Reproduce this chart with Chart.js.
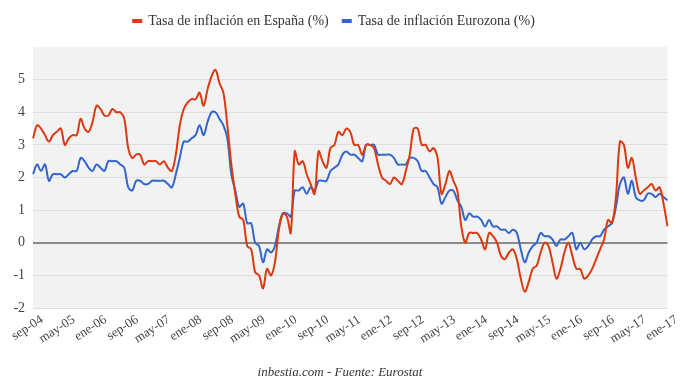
<!DOCTYPE html>
<html><head><meta charset="utf-8">
<script src="https://cdn.jsdelivr.net/npm/chart.js@4/dist/chart.umd.min.js"></script>
<style>html,body{margin:0;padding:0;background:#fff}</style>
</head><body>
<canvas id="c" width="680" height="384"></canvas>
<script>
// Tick labels shown every 8 months (as in the reference)
const tickLabels = ['sep-04','may-05','ene-06','sep-06','may-07','ene-08','sep-08','may-09','ene-10','sep-10','may-11','ene-12','sep-12','may-13','ene-14','sep-14','may-15','ene-16','sep-16','may-17','ene-17'];
const monthNames = ['ene','feb','mar','abr','may','jun','jul','ago','sep','oct','nov','dic'];

// Tasa de inflación en España (%) — monthly, sep-04 onwards
const spain = [
  3.2, 3.6, 3.5, 3.3,
  3.1, 3.3, 3.4, 3.5, 3.0, 3.2, 3.3, 3.3, 3.8, 3.5, 3.4, 3.7,
  4.2, 4.1, 3.9, 3.9, 4.1, 4.0, 4.0, 3.8, 2.9, 2.6, 2.7, 2.7,
  2.4, 2.5, 2.5, 2.5, 2.4, 2.5, 2.3, 2.2, 2.7, 3.6, 4.1, 4.3,
  4.4, 4.4, 4.6, 4.2, 4.7, 5.1, 5.3, 4.9, 4.6, 3.6, 2.4, 1.5,
  0.8, 0.7, -0.1, -0.2, -0.9, -1.0, -1.4, -0.8, -1.0, -0.6, 0.4, 0.9,
  0.8, 0.3, 2.8, 2.4, 2.5, 2.1, 1.8, 1.5, 2.8, 2.5, 2.3, 2.9,
  3.0, 3.4, 3.3, 3.5, 3.4, 3.0, 3.0, 2.7, 3.0, 3.0, 2.9, 2.4,
  2.0, 1.9, 1.8, 2.0, 1.9, 1.8, 2.2, 2.7, 3.5, 3.5, 3.0, 3.0,
  2.8, 2.9, 2.6, 1.5, 1.8, 2.2, 1.9, 1.6, 0.5, 0.0, 0.3, 0.3,
  0.3, 0.1, -0.2, 0.3, 0.2, 0.0, -0.4, -0.5, -0.3, -0.2, -0.5, -1.1,
  -1.5, -1.2, -0.8, -0.7, -0.3, 0.0, -0.1, -0.6, -1.1, -0.8, -0.3, 0.0,
  -0.4, -0.8, -0.8, -1.1, -1.0, -0.8, -0.5, -0.2, 0.1, 0.7, 0.6, 1.4,
  3.1, 3.0, 2.3, 2.6, 2.0, 1.5, 1.6, 1.7, 1.8, 1.6, 1.7, 1.2,
  0.5
];

// Tasa de inflación Eurozona (%)
const euro = [
  2.1, 2.4, 2.2, 2.4,
  1.9, 2.1, 2.1, 2.1, 2.0, 2.1, 2.2, 2.2, 2.6, 2.5, 2.3, 2.2,
  2.4, 2.3, 2.2, 2.5, 2.5, 2.5, 2.4, 2.3, 1.7, 1.6, 1.9, 1.9,
  1.8, 1.8, 1.9, 1.9, 1.9, 1.9, 1.8, 1.7, 2.1, 2.6, 3.1, 3.1,
  3.2, 3.3, 3.6, 3.3, 3.7, 4.0, 4.0, 3.8, 3.6, 3.2, 2.1, 1.6,
  1.1, 1.2, 0.6, 0.6, 0.0, -0.1, -0.6, -0.2, -0.3, -0.1, 0.5, 0.9,
  0.9, 0.8, 1.6, 1.6, 1.7, 1.5, 1.7, 1.6, 1.9, 1.9, 1.9, 2.2,
  2.3, 2.4, 2.7, 2.8, 2.7, 2.7, 2.6, 2.5, 3.0, 3.0, 3.0, 2.7,
  2.7, 2.7, 2.7, 2.6, 2.4, 2.4, 2.4, 2.6, 2.6, 2.5, 2.2, 2.2,
  2.0, 1.8, 1.7, 1.2, 1.4, 1.6, 1.6, 1.3, 1.1, 0.7, 0.9, 0.8,
  0.8, 0.7, 0.5, 0.7, 0.5, 0.5, 0.4, 0.4, 0.3, 0.4, 0.3, -0.2,
  -0.6, -0.3, -0.1, 0.0, 0.3, 0.2, 0.2, 0.1, -0.1, 0.1, 0.1, 0.2,
  0.3, -0.2, 0.0, -0.2, -0.1, 0.1, 0.2, 0.2, 0.4, 0.5, 0.6, 1.1,
  1.8, 2.0, 1.5, 1.9, 1.4, 1.3, 1.3, 1.5, 1.5, 1.4, 1.5, 1.4,
  1.3
];

// Category labels: one per month starting sep-2004
const categories = spain.map((_, i) => {
  const mi = (8 + i) % 12;
  const yr = 4 + Math.floor((8 + i) / 12);
  return monthNames[mi] + '-' + String(yr).padStart(2, '0');
});

const SERIF = 'Liberation Serif';

const bgPlugin = {
  id: 'bg',
  beforeDraw(chart) {
    const {ctx, chartArea: {left, top, width, height}} = chart;
    ctx.save();
    ctx.fillStyle = '#f2f2f2';
    ctx.fillRect(left, top, width, height);
    ctx.restore();
  }
};
const footerPlugin = {
  id: 'footer',
  afterDraw(chart) {
    const ctx = chart.ctx;
    ctx.save();
    ctx.font = 'italic 13px "' + SERIF + '"';
    ctx.fillStyle = '#333';
    ctx.textAlign = 'center';
    ctx.textBaseline = 'middle';
    ctx.fillText('inbestia.com - Fuente: Eurostat', 340, 373);
    ctx.restore();
  }
};
const legendHeight = {
  id: 'legendHeight',
  beforeInit(chart) {
    const fit = chart.legend.fit;
    chart.legend.fit = function () { fit.bind(chart.legend)(); this.height = 47; };
  }
};

new Chart(document.getElementById('c'), {
  type: 'line',
  data: {
    labels: categories,
    datasets: [
      {label: 'Tasa de inflación en España (%)', data: spain, borderColor: '#dc3912', backgroundColor: '#dc3912', borderWidth: 2, pointRadius: 0, tension: 0.35, fill: false},
      {label: 'Tasa de inflación Eurozona (%)', data: euro, borderColor: '#3366cc', backgroundColor: '#3366cc', borderWidth: 2, pointRadius: 0, tension: 0.35, fill: false}
    ]
  },
  options: {
    responsive: false,
    animation: false,
    devicePixelRatio: 1,
    layout: {padding: {left: 0, right: 12, top: 0, bottom: 0}},
    plugins: {
      legend: {
        position: 'top',
        labels: {font: {family: SERIF, size: 14}, color: '#333', boxWidth: 8, boxHeight: 2, padding: 14}
      },
      tooltip: {enabled: false}
    },
    scales: {
      x: {
        offset: false,
        grid: {display: false, drawTicks: false},
        border: {display: false},
        ticks: {
          autoSkip: false, minRotation: 33, maxRotation: 33, padding: 4, labelOffset: 9,
          font: {family: SERIF, size: 13}, color: '#444',
          callback: (v, i) => (i % 8 === 0 ? tickLabels[i / 8] : '')
        },
        afterFit(s) { s.height = 76; }
      },
      y: {
        min: -2, max: 6,
        border: {display: false},
        grid: {
          drawTicks: false,
          color: c => c.tick.value === 0 ? '#8a8a8a' : (c.tick.value === 6 ? 'rgba(0,0,0,0)' : '#dedede'),
          lineWidth: c => c.tick.value === 0 ? 2 : 1
        },
        ticks: {stepSize: 1, padding: 8, font: {family: SERIF, size: 14}, color: '#444', callback: v => v === 6 ? '' : v},
        afterFit(s) { s.width = 33; }
      }
    }
  },
  plugins: [bgPlugin, footerPlugin, legendHeight]
});
</script>
</body></html>
